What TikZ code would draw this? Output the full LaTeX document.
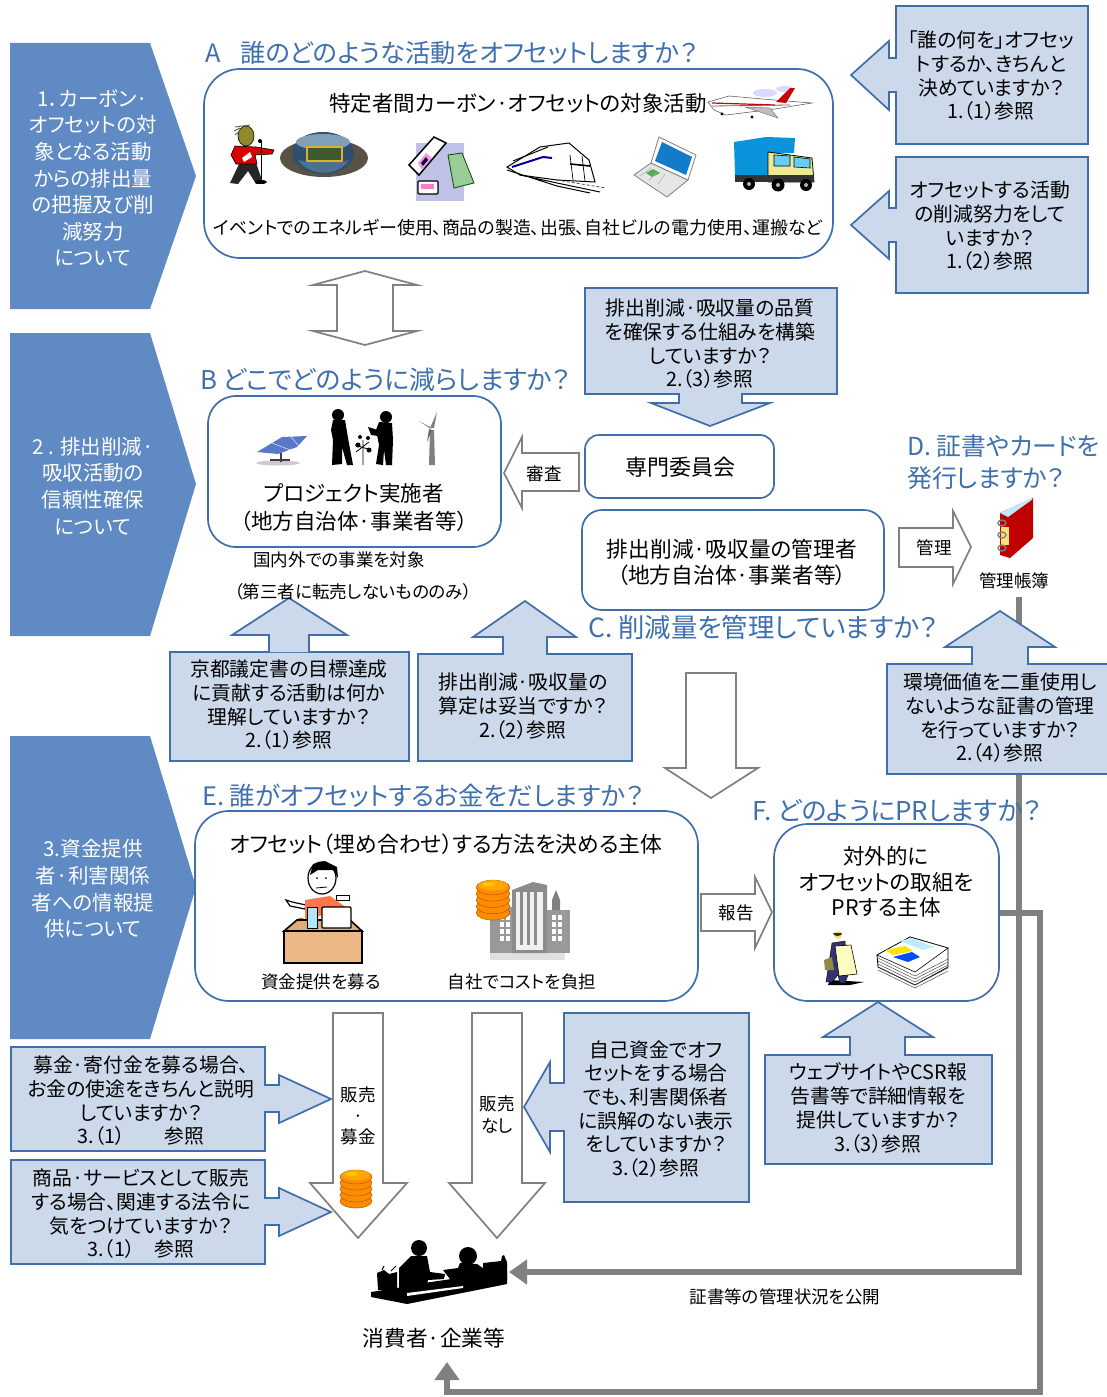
\documentclass[tikz,border=0pt]{standalone}
\usepackage{fontspec}
\setmainfont{Noto Sans CJK JP}[RawFeature={+palt}]
\usetikzlibrary{arrows.meta}
\definecolor{bl}{HTML}{3F6EAB}
\definecolor{cf}{HTML}{CCD9EB}
\definecolor{pn}{HTML}{5F8AC3}
\definecolor{gr}{HTML}{808080}
\definecolor{ttl}{HTML}{3F70AE}
\definecolor{stshadow}{HTML}{5A5245}
\definecolor{stbowl}{HTML}{2F4F6F}
\definecolor{stroof}{HTML}{7FA0B8}
\definecolor{stfield}{HTML}{3E5A30}
\definecolor{stlow}{HTML}{4F6F8C}
\definecolor{solar}{HTML}{5878C8}
\newcommand{\fs}[1]{\fontsize{#1}{#1}\selectfont}
\newcommand{\coinstack}[3]{%
 \begin{scope}[shift={(#1,#2)},scale=#3]
  \foreach \yy in {14,8,2,-4,-10}{\fill[orange!90!yellow,draw=orange!70!black,line width=.5] (0,\yy) ellipse (16 and 7);}
  \fill[orange!70!yellow] (0,-12) ellipse (14 and 5);
  \fill[yellow!60!orange] (-4,-13) ellipse (6 and 2);
 \end{scope}}
\tikzset{
 callout/.style={draw=bl,fill=cf,line width=1.7,line join=miter},
 hollow/.style={draw=gr,fill=white,line width=1.7,line join=miter},
 panel/.style={fill=pn},
 roundbox/.style={draw=bl,fill=white,line width=1.7,inner sep=0},
 qtext/.style={align=center,inner sep=0,font=\fontsize{19.8}{23.7}\selectfont},
 ptext/.style={align=center,inner sep=0,text=white,font=\fontsize{20.5}{26.6}\selectfont},
 head/.style={inner sep=0,text=ttl,anchor=west},
 bodyb/.style={inner sep=0,align=center,font=\fontsize{21.7}{26}\selectfont},
 small/.style={inner sep=0,font=\fs{17.5}},
 grayline/.style={draw=gr,line width=6,line join=miter,-{Triangle[length=18,width=24]}},
}
\begin{document}
\begin{tikzpicture}[x=1pt,y=-1pt]
\useasboundingbox (0,0) rectangle (1107,1397);
\fill[white] (0,0) rectangle (1107,1397);

% left panels
\fill[panel] (10,43)--(150,43)--(196,176)--(150,309)--(10,309)--cycle;
\fill[panel] (10,333)--(150,333)--(196,484)--(150,636)--(10,636)--cycle;
\fill[panel] (10,736)--(150,736)--(196,887)--(150,1039)--(10,1039)--cycle;
\node[ptext] (p1) at (93,178) {1．カーボン·\\オフセットの対\\象となる活動\\からの排出量\\の把握及び削\\減努力\\について};
\node[ptext] (p2) at (93,486) {2 . 排出削減·\\吸収活動の\\信頼性確保\\について};
\node[ptext] (p3) at (93,889) {3.資金提供\\者·利害関係\\者への情報提\\供について};

% anchors of the grey lines
\coordinate (ledgerfoot) at (1019,597);
\coordinate (consright) at (509,1272);
\coordinate (elbowa) at (1019,1272);
\node[inner sep=0,font=\fs{21.7}] (cons) at (434,1338) {消費者·企業等};
\coordinate (consfoot) at (447,1362);

% boxes
\node[roundbox,minimum width=629,minimum height=189,rounded corners=36] (abox) at (518.5,163.5) {};
\node[roundbox,minimum width=293,minimum height=151,rounded corners=28] (bbox) at (354.5,471.5) {};
\node[roundbox,minimum width=189,minimum height=63,rounded corners=14] (cttee) at (679.5,466.5) {};
\node[roundbox,minimum width=302,minimum height=100,rounded corners=20] (cbox) at (733,560) {};
\node[roundbox,minimum width=503,minimum height=190,rounded corners=34] (ebox) at (446.5,906) {};
\node[roundbox,minimum width=225,minimum height=177,rounded corners=34] (fbox) at (886.5,912.5) {};

% grey lines
\draw[grayline] (ledgerfoot) -- (elbowa) -- (consright);
\draw[grayline] (fbox.east) -- (1040,912.5) -- (1040,1392) -- (447,1392) -- (consfoot);

% hollow arrows
\draw[hollow] (365,271)--(417,285)--(393,285)--(393,331)--(417,331)--(365,345)--(313,331)--(337,331)--(337,285)--(313,285)--cycle;
\draw[hollow] (504,473)--(522,437)--(522,453)--(579,453)--(579,491)--(522,491)--(522,508)--cycle;
\draw[hollow] (899,528)--(953,528)--(953,511)--(971,547)--(953,584)--(953,567)--(899,567)--cycle;
\draw[hollow] (686,673)--(736,673)--(736,768)--(758,768)--(711,798)--(665,768)--(686,768)--cycle;
\draw[hollow] (701,894)--(755,894)--(755,877)--(772,912)--(755,948)--(755,931)--(701,931)--cycle;
\draw[hollow] (333,1013)--(383,1013)--(383,1183)--(407,1183)--(358,1238)--(310,1183)--(333,1183)--cycle;
\draw[hollow] (472,1013)--(522,1013)--(522,1183)--(545,1183)--(497,1238)--(449,1183)--(472,1183)--cycle;

% callouts
\draw[callout] (896,6)--(1088,6)--(1088,144)--(896,144)--(896,92)--(889,92)--(889,110)--(851,75)--(889,41)--(889,58)--(896,58)--cycle;
\draw[callout] (896,157)--(1088,157)--(1088,293)--(896,293)--(896,242)--(889,242)--(889,259)--(851,225)--(889,191)--(889,208)--(896,208)--cycle;
\draw[callout] (585,288)--(837,288)--(837,394)--(742,394)--(742,403)--(770,403)--(710,426)--(651,403)--(679,403)--(679,394)--(585,394)--cycle;
\draw[callout] (170,652)--(409,652)--(409,761)--(170,761)--cycle;
\draw[callout] (269,652)--(269,635)--(232,635)--(289,598)--(347,635)--(309,635)--(309,652);
\draw[callout] (418,654)--(503,654)--(503,637)--(473,637)--(525,601)--(576,637)--(547,637)--(547,654)--(632,654)--(632,761)--(418,761)--cycle;
\draw[callout] (887,664)--(972,664)--(972,647)--(945,647)--(1000,611)--(1055,647)--(1028,647)--(1028,664)--(1110,664)--(1110,774)--(887,774)--cycle;
\draw[callout] (11,1047)--(265,1047)--(265,1085)--(279,1085)--(279,1075)--(331,1099)--(279,1123)--(279,1112)--(265,1112)--(265,1151)--(11,1151)--cycle;
\draw[callout] (11,1160)--(265,1160)--(265,1198)--(279,1198)--(279,1188)--(331,1212)--(279,1236)--(279,1225)--(265,1225)--(265,1264)--(11,1264)--cycle;
\draw[callout] (564,1013)--(749,1013)--(749,1202)--(564,1202)--(564,1131)--(550,1131)--(550,1152)--(524,1107)--(550,1062)--(550,1083)--(564,1083)--cycle;
\draw[callout] (765,1055)--(850,1055)--(850,1037)--(823,1037)--(878,1002)--(933,1037)--(905,1037)--(905,1055)--(992,1055)--(992,1164)--(765,1164)--cycle;

% headings
\node[head,font=\fs{25.3}] (haa) at (205,53) {A};
\node[head,font=\fs{25.3}] (ha) at (240,53) {誰のどのような活動をオフセットしますか？};
\node[head,font=\fs{25.8}] (hb) at (200,380) {B どこでどのように減らしますか？};
\node[head,font=\fs{26.4}] (hc) at (588,627) {C. 削減量を管理していますか？};
\node[head,font=\fs{24.8}] (hd1) at (907,446) {D. 証書やカードを};
\node[head,font=\fs{24.8}] (hd2) at (907,478) {発行しますか？};
\node[head,font=\fs{25.4}] (he) at (202,796) {E. 誰がオフセットするお金をだしますか？};
\node[head,font=\fs{25.9}] (hf) at (752,811) {F. どのようにPRしますか？};

% body texts
\node[inner sep=0,font=\fs{21.5}] (ta) at (518,103) {特定者間カーボン·オフセットの対象活動};
\node[inner sep=0,font=\fs{17.95}] (tb) at (518,228) {イベントでのエネルギー使用、商品の製造、出張、自社ビルの電力使用、運搬など};
\node[bodyb,font=\fontsize{21.5}{28}\selectfont] (tc) at (354,507) {プロジェクト実施者\\（地方自治体·事業者等）};
\node[small] (td) at (339,560) {国内外での事業を対象};
\node[small] (te) at (353,592) {（第三者に転売しないもののみ）};
\node[inner sep=0,font=\fs{22}] (tf) at (680,467) {専門委員会};
\node[bodyb] (tg) at (732,562) {排出削減·吸収量の管理者\\（地方自治体·事業者等）};
\node[small] (th) at (544,474) {審査};
\node[small] (ti) at (934,548) {管理};
\node[small] (tj) at (1014,581) {管理帳簿};
\node[small] (tk) at (736,913) {報告};
\node[inner sep=0,font=\fs{21.8}] (tl) at (446,844) {オフセット（埋め合わせ）する方法を決める主体};
\node[small] (tm) at (321,982) {資金提供を募る};
\node[small] (tn) at (522,982) {自社でコストを負担};
\node[bodyb,font=\fontsize{21.5}{25.5}\selectfont] (to) at (886,882) {対外的に\\オフセットの取組を\\PRする主体};
\node[small,align=center,font=\fontsize{17.5}{21}\selectfont] (tp) at (358,1116) {販売\\·\\募金};
\node[small,align=center,font=\fontsize{17.5}{22}\selectfont] (tq) at (497,1115) {販売\\なし};
\node[small] (tr) at (785,1297) {証書等の管理状況を公開};

% question texts
\node[qtext] (q1) at (991,76) {「誰の何を」オフセッ\\トするか、きちんと\\決めていますか？\\1.（1）参照};
\node[qtext] (q2) at (990,226) {オフセットする活動\\の削減努力をして\\いますか？\\1.（2）参照};
\node[qtext] (q3) at (710,344) {排出削減·吸収量の品質\\を確保する仕組みを構築\\していますか？\\2.（3）参照};
\node[qtext] (q4) at (289,705) {京都議定書の目標達成\\に貢献する活動は何か\\理解していますか？\\2.（1）参照};
\node[qtext] (q5) at (523,706) {排出削減·吸収量の\\算定は妥当ですか？\\2.（2）参照};
\node[qtext] (q6) at (1000,718) {環境価値を二重使用し\\ないような証書の管理\\を行っていますか？\\2.（4）参照};
\node[qtext] (q7) at (141,1101) {募金·寄付金を募る場合、\\お金の使途をきちんと説明\\していますか？\\3.（1）　　参照};
\node[qtext] (q8) at (141,1214) {商品·サービスとして販売\\する場合、関連する法令に\\気をつけていますか？\\3.（1）　参照};
\node[qtext] (q9) at (656,1109) {自己資金でオフ\\セットをする場合\\でも、利害関係者\\に誤解のない表示\\をしていますか？\\3.（2）参照};
\node[qtext] (q10) at (878,1108) {ウェブサイトやCSR報\\告書等で詳細情報を\\提供していますか？\\3.（3）参照};

% ---- clip art: plane
\fill[blue!15] (765,93) ellipse (12 and 4) (785,89) ellipse (9 and 3);
\filldraw[fill=white,draw=black!70,line width=.5] (708,102)--(729,96)--(774,100)--(812,103)--(775,109)--(726,115)--(714,110)--cycle;
\fill[red!80!black] (790,88)--(795,88)--(786,103)--(776,102)--cycle;
\draw[red!80!black,line width=1.2] (712,103)--(775,105);
\draw[black!60,line width=.8] (712,106)--(790,105);
\filldraw[fill=black!25,draw=black!60,line width=.4] (745,107)--(778,118)--(770,108)--cycle;
\fill[black] (722,114) circle (1.6) (752,117) circle (1.6);
% singer
\fill[black!85] (240,162)--(255,160)--(263,183)--(256,184)--(248,171)--(238,184)--(230,183)--cycle;
\filldraw[fill=red!85!black,draw=black,line width=.6] (235,146)--(256,147)--(274,150)--(272,154)--(255,155)--(257,164)--(236,164)--(231,155)--cycle;
\filldraw[fill=olive!70!gray,draw=black,line width=.6] (246,136) ellipse (8 and 10);
\draw[black!60,line width=1] (235,127)--(250,125) (234,131)--(240,128) (235,135)--(240,131);
\draw[black,line width=1] (261,142)--(261,181);
\fill[black] (261,182) ellipse (6 and 2) (260,141) circle (2);
\fill[white] (242,158)--(250,152)--(252,157)--(244,162)--cycle;
% stadium
\fill[stshadow] (324,158) ellipse (44 and 19);
\fill[stbowl] (323,153) ellipse (31 and 21);
\fill[stroof] (323,142) ellipse (27 and 8);
\fill[brown!60!yellow] (306,146) rectangle (343,162);
\fill[stfield] (308,148) rectangle (341,160);
\fill[stlow] (298,160) .. controls (310,177) and (338,177) .. (349,160) -- (343,162) -- (306,162) -- cycle;
% tickets
\fill[cyan!25!blue!25!white] (416,143) rectangle (464,201);
\filldraw[fill=white,draw=black,line width=1.5] (409,165)--(434,137)--(446,143)--(419,175)--cycle;
\fill[magenta!40] (418,163)--(426,153)--(432,158)--(422,170)--cycle;
\fill[black!70!blue] (421,163)--(426,157)--(428,160)--(423,166)--cycle;
\filldraw[fill=green!35!gray!60!white,draw=black!70!green,line width=.8] (448,155)--(462,153)--(474,183)--(454,188)--cycle;
\filldraw[fill=white,draw=black,line width=1.4,rounded corners=1] (418,181) rectangle (438,194);
\fill[magenta!50] (421,184) rectangle (434,189);
% train
\filldraw[fill=white,draw=black,line width=1] (507,167)--(540,147)--(569,143)--(589,160)--(595,182)--(557,180)--(520,175)--cycle;
\draw[blue!60!black,line width=2] (512,167)--(543,157)--(552,158);
\draw[black,line width=1.6] (570,164)--(590,166);
\draw[black,line width=.7] (570,155)--(573,180) (582,156)--(585,181);
\draw[black,line width=1] (513,161)--(548,147) (520,175)--(557,183)--(600,192) (507,170)--(557,186)--(590,193);
\draw[black!70,densely dashed,line width=.8] (557,180)--(606,188);
% laptop
\filldraw[fill=black!10,draw=black!50,line width=.8] (651,163)--(688,180)--(667,197)--(634,175)--cycle;
\filldraw[fill=white,draw=black!50,line width=.8] (659,137)--(696,155)--(688,180)--(651,163)--cycle;
\fill[cyan!60!blue] (662,142)--(692,157)--(686,175)--(655,161)--cycle;
\fill[green!35!gray] (646,173)--(653,169)--(660,173)--(652,177)--cycle;
\foreach \t in {0,1,2}{\draw[black!35,line width=.4] (651+\t*7,168+\t*3)--(640+\t*9,176+\t*4);}
% truck
\fill[cyan!80!blue] (734,142)--(766,137)--(795,138)--(794,153)--(768,153)--(768,175)--(735,175)--cycle;
\filldraw[fill=yellow!45!white!85!gray,draw=black,line width=.8] (768,152)--(812,158)--(814,182)--(768,182)--cycle;
\fill[black!80] (735,175) rectangle (814,182);
\filldraw[fill=cyan!60,draw=black,line width=.6] (774,155)--(790,156)--(790,166)--(774,166)--cycle;
\filldraw[fill=cyan!60,draw=black,line width=.6] (794,157)--(810,159)--(810,168)--(794,167)--cycle;
\fill[black] (749,184) circle (6) (778,185) circle (6.5) (806,185) circle (6);
\fill[black!30] (749,184) circle (2) (778,185) circle (2) (806,185) circle (2);
% solar panel
\fill[black!20] (278,463) ellipse (22 and 2.5);
\draw[black!75,line width=1.4] (281,453)--(281,462) (270,460)--(290,460);
\fill[solar] (257,452)--(282,437)--(307,436)--(297,447)--(278,454)--cycle;
\draw[white,line width=.4] (272,443)--(290,450) (290,436)--(299,446);
% gardeners
\fill[black] (338,415) circle (6);
\fill[black] (333,420)--(345,420)--(348,438)--(353,465)--(347,465)--(342,447)--(342,464)--(332,465)--(333,440)--(331,430)--cycle;
\fill[black] (386,417) circle (6);
\fill[black] (379,422)--(392,423)--(393,440)--(392,465)--(386,465)--(384,450)--(383,465)--(376,464)--(379,445)--(376,430)--cycle;
\fill[black] (378,430)--(368,427)--(371,435)--(378,436)--cycle;
\draw[black,line width=.8] (363,465)--(363,440) (355,445)--(371,450) (356,452)--(369,442);
\fill[black] (358,445) circle (2.5) (369,450) circle (2.5) (360,437) circle (2) (368,438) circle (2);
% turbine
\fill[black!50] (430,430)--(434,430)--(435,465)--(429,465)--cycle;
\fill[black!50] (430,428)--(437,412)--(434,428)--cycle;
\fill[black!50] (430,427)--(419,421)--(431,429)--cycle;
\fill[black!60] (429,429)--(427,442)--(432,430)--cycle;
% shop person
\filldraw[fill=white,draw=black,line width=1.2] (286,900)--(292,902)--(306,905)--(305,909)--(290,906)--cycle;
\fill[red!55!orange!70!white] (305,900)--(330,896)--(347,908)--(305,920)--cycle;
\filldraw[fill=white,draw=black,line width=1.2] (322,878) ellipse (14 and 16);
\fill[black] (310,875)--(313,864)--(325,861)--(337,867)--(338,878)--(333,870)--(318,870)--cycle;
\fill[black] (317,878) circle (1) (326,878) circle (1);
\draw[black,line width=.8] (316,888)--(327,887);
\filldraw[fill=white,draw=black,line width=.8] (336,895) rectangle (349,900);
\filldraw[fill=orange,draw=orange!60!black,line width=.5] (301,923) circle (5);
\filldraw[fill=brown!40!orange!60!white!85!gray,draw=black,line width=1.6] (284,931)--(297,920)--(350,920)--(362,931)--cycle;
\filldraw[fill=orange!45!brown!55!white,draw=black,line width=1.6] (284,931) rectangle (362,963);
\filldraw[fill=cyan!30,draw=black,line width=1] (307,907) rectangle (317,928);
\filldraw[fill=white,draw=black,line width=1.4,rounded corners=1] (322,907) rectangle (351,928);
% buildings with coins
\fill[black!12] (490,953) rectangle (565,960);
\fill[black!40] (490,907) rectangle (520,953);
\fill[black!40] (547,910) rectangle (570,953);
\fill[black!50] (552,910)--(552,900)--(556,890)--(560,900)--(560,910)--cycle;
\foreach \xx in {500,506,512}{\foreach \yy in {915,922,929,936}{\fill[white] (\xx,\yy) rectangle (\xx+4,\yy+5);}}
\foreach \xx in {552,558}{\foreach \yy in {915,922,929,936}{\fill[white] (\xx,\yy) rectangle (\xx+4,\yy+5);}}
\fill[black!45] (512,890)--(533,882)--(547,885)--(547,953)--(512,953)--cycle;
\fill[black!6] (516,892) rectangle (543,950);
\foreach \xx in {520,527,534}{\fill[black!45] (\xx,890) rectangle (\xx+3,945);}
\coinstack{493}{898}{1.05}
% ledger
\fill[red!75!black] (1000,513)--(1033,498)--(1033,538)--(1010,558)--(1000,555)--cycle;
\fill[cyan!25] (1000,513)--(1030,499)--(1033,499)--(1008,517)--cycle;
\fill[yellow!60!orange!50!white] (1001,527) rectangle (1009,545);
\foreach \yy in {523,535,548}{\draw[black!50,line width=1.4] (1002,\yy) ellipse (4 and 3);}
% man with sign
\fill[black] (830,980) -- (864,982) -- (850,985) -- (828,985) -- cycle;
\filldraw[fill=blue!30!black!80,draw=black,line width=.4] (832,943)--(845,941)--(848,975)--(845,983)--(840,983)--(838,975)--(832,982)--(826,982)--cycle;
\fill[olive!50!gray] (824,960)--(832,957)--(834,970)--(825,970)--cycle;
\fill[yellow!60!brown!60!white] (838,935) circle (4);
\fill[black!70!brown] (833,933) arc (180:360:4.5 and -3) -- cycle;
\filldraw[fill=yellow!25,draw=black,line width=.6] (835,946)--(851,945)--(857,974)--(839,976)--cycle;
% newspapers
\filldraw[fill=white,draw=black,line width=.8] (877,955)--(910,937)--(948,948)--(948,967)--(915,985)--(878,967)--cycle;
\foreach \yy in {3,6,9,12,15}{\draw[black!70,line width=.5] (878,955+\yy)--(915,973+\yy)--(948,950+\yy+6);}
\filldraw[fill=white,draw=black,line width=.6] (877,955)--(910,937)--(948,948)--(915,972)--cycle;
\fill[cyan!25] (900,941)--(911,938)--(934,947)--(923,950)--cycle;
\fill[yellow!85!orange] (885,950)--(905,946)--(913,951)--(893,955)--cycle;
\fill[blue!70!cyan] (893,957)--(912,952)--(920,957)--(908,962)--cycle;
% coins on the arrow
\coinstack{356}{1187}{1}
% consumers
\fill[black] (371,1292)--(397,1288)--(410,1285)--(507,1271)--(507,1284)--(407,1304)--(402,1303)--(371,1297)--cycle;
\fill[white] (407,1293)--(463,1286)--(463,1288)--(407,1296)--cycle;
\fill[black] (377,1273)--(384,1270)--(389,1274)--(397,1272)--(397,1290)--(378,1290)--cycle;
\draw[black,line width=1] (382,1270)--(384,1266) (391,1271)--(396,1266);
\fill[black] (419,1248) circle (8);
\fill[black] (411,1256)--(427,1256)--(430,1272)--(445,1274)--(444,1279)--(428,1280)--(426,1288)--(399,1288)--(399,1268)--cycle;
\fill[black] (468,1256) circle (9);
\fill[black] (460,1263)--(477,1264)--(483,1268)--(483,1278)--(464,1283)--(453,1283)--(443,1270)--(458,1268)--cycle;
\fill[black] (483,1263)--(501,1261)--(502,1256)--(504,1255)--(507,1262)--(507,1280)--(483,1282)--cycle;
\end{tikzpicture}
\end{document}
